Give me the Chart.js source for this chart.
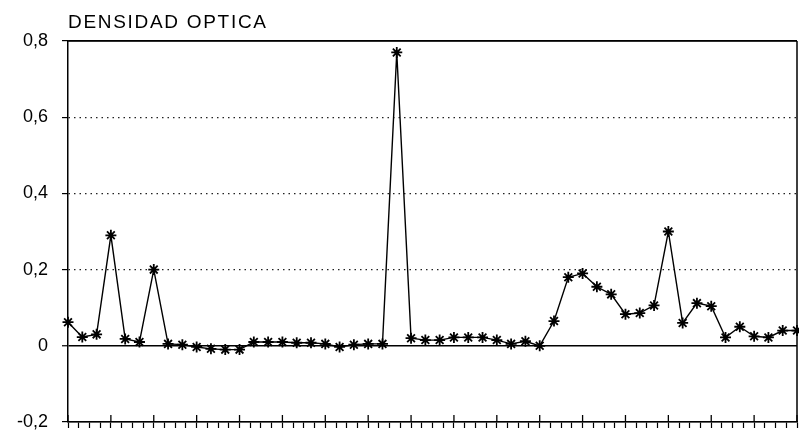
<!DOCTYPE html>
<html>
<head>
<meta charset="utf-8">
<script src="https://cdn.jsdelivr.net/npm/chart.js@4/dist/chart.umd.min.js"></script>
<style>
  html, body { margin: 0; padding: 0; background: #fff; }
  #wrap { position: relative; width: 799px; height: 434px; }
</style>
</head>
<body>
<div id="wrap"><canvas id="chart" width="799" height="434"></canvas></div>
<script>
/* DATA */
const axisTitle = "DENSIDAD OPTICA";
const yTicks = [-0.2, 0, 0.2, 0.4, 0.6, 0.8];
const yTickLabels = ["-0,2", "0", "0,2", "0,4", "0,6", "0,8"];
const density = [
    0.062, 0.023, 0.030, 0.290, 0.018, 0.010, 0.200, 0.005, 0.003, -0.003,
    -0.008, -0.010, -0.010, 0.010, 0.010, 0.010, 0.008, 0.008, 0.005, -0.003,
    0.003, 0.005, 0.005, 0.770, 0.020, 0.015, 0.015, 0.022, 0.022, 0.022,
    0.015, 0.005, 0.012, 0.000, 0.065, 0.180, 0.190, 0.155, 0.135, 0.083,
    0.086, 0.106, 0.300, 0.060, 0.112, 0.104, 0.022, 0.050, 0.025, 0.022,
    0.040, 0.040
];
const xTickCount = 68;   // minor tick marks along the bottom axis
const majorEvery = 4;

Chart.defaults.font.family = "'Liberation Sans', Arial, sans-serif";
Chart.defaults.font.size = 18;
Chart.defaults.color = "#000";

/* FRAME + AXIS MARKS */
const framePlugin = {
    id: "frame",
    afterDraw(chart) {
        const { ctx, chartArea: a, scales } = chart;
        ctx.save();
        ctx.strokeStyle = "#000";
        ctx.lineWidth = 1.5;
        ctx.beginPath();
        ctx.moveTo(a.left, a.top); ctx.lineTo(a.right, a.top);
        ctx.moveTo(a.right, a.top); ctx.lineTo(a.right, a.bottom);
        ctx.stroke();
        // major ticks crossing above the x axis
        ctx.lineWidth = 1.3;
        scales.x.ticks.forEach((t, i) => {
            if (i % majorEvery !== 0) return;
            const px = scales.x.getPixelForValue(t.value);
            ctx.beginPath();
            ctx.moveTo(px, a.bottom - 7);
            ctx.lineTo(px, a.bottom);
            ctx.stroke();
        });
        // title
        ctx.fillStyle = "#000";
        ctx.font = "19px 'Liberation Sans', Arial, sans-serif";
        ctx.letterSpacing = "1.7px";
        ctx.textBaseline = "alphabetic";
        ctx.fillText(axisTitle, 68, 28);
        ctx.restore();
    }
};

const ctx = document.getElementById("chart");
new Chart(ctx, {
    type: "line",
    data: {
        datasets: [{
            data: density.map((v, i) => ({ x: i, y: v })),
            borderColor: "#000",
            borderWidth: 1.4,
            tension: 0,
            pointStyle: "star",
            pointRadius: 5.5,
            pointBorderWidth: 1.8,
            pointBorderColor: "#000",
            pointBackgroundColor: "#000",
            clip: 8
        }]
    },
    options: {
        responsive: false,
        animation: false,
        layout: { autoPadding: false, padding: { top: 41, right: 2, left: 0, bottom: 0 } },
        plugins: { legend: { display: false }, tooltip: { enabled: false } },
        scales: {
            x: {
                type: "linear",
                min: 0,
                max: density.length - 1,
                afterBuildTicks: s => {
                    const step = (density.length - 1) / xTickCount;
                    s.ticks = Array.from({ length: xTickCount + 1 }, (_, k) => ({ value: k * step }));
                },
                afterFit: s => { s.height = 12; s.paddingLeft = 0; s.paddingRight = 0; },
                ticks: { display: false },
                grid: {
                    drawOnChartArea: false,
                    drawTicks: true,
                    tickLength: 6,
                    tickColor: "#000",
                    tickWidth: 1.2
                },
                border: { display: true, color: "#000", width: 1.5 }
            },
            y: {
                min: -0.2,
                max: 0.8,
                afterBuildTicks: s => { s.ticks = yTicks.map(v => ({ value: v })); },
                afterFit: s => { s.width = 68; s.paddingTop = 0; s.paddingBottom = 0; },
                ticks: {
                    color: "#000",
                    padding: 14,
                    font: { size: 18 },
                    callback: (v, i) => yTickLabels[i]
                },
                grid: {
                    drawOnChartArea: true,
                    tickLength: 6,
                    tickColor: "#000",
                    tickWidth: 1.2,
                    color: c => (c.tick && (c.tick.value === 0 || c.tick.value === -0.2 || c.tick.value === 0.8)) ? "#000" : "#222",
                    lineWidth: c => (c.tick && c.tick.value === 0) ? 1.5 : 1.2
                },
                border: {
                    display: true, color: "#000", width: 1.5,
                    dash: c => (c.tick && c.tick.value !== 0 && c.tick.value !== 0.8 && c.tick.value !== -0.2) ? [1.5, 4] : []
                }
            }
        }
    },
    plugins: [framePlugin]
});
</script>
</body>
</html>
